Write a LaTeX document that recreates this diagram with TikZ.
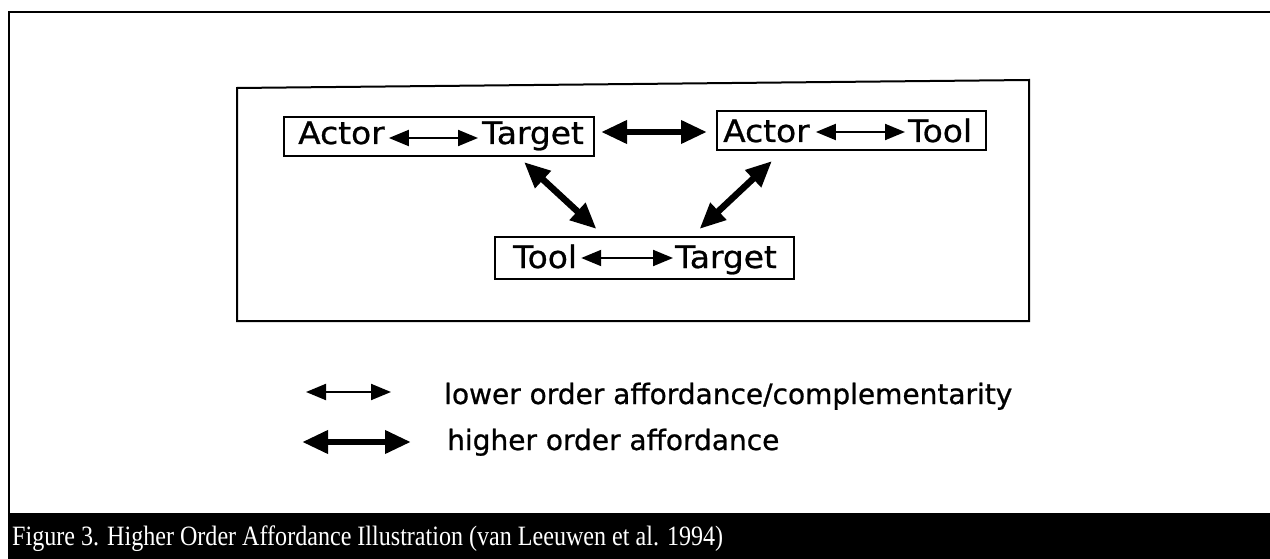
\documentclass[tikz,border=0pt]{standalone}
\usepackage{fontspec}
\setmainfont[FakeBold=0.8]{DejaVu Sans}
\newfontfamily\boxfont[FakeStretch=1.06,FakeBold=0.8]{DejaVu Sans}
\newfontfamily\capfont[FakeStretch=0.86]{Liberation Serif}
\usetikzlibrary{arrows.meta}
\begin{document}
\begin{tikzpicture}[x=1pt,y=-1pt,
  frame/.style={draw=black, line width=2pt},
  box/.style={draw=black, line width=2pt, inner sep=0pt, rectangle},
  lbl/.style={inner sep=0pt, anchor=base west, font=\boxfont\fontsize{31}{31}\selectfont},
  legtext/.style={inner sep=0pt, anchor=base west, font=\fontsize{28}{28}\selectfont},
  small/.style={line width=2pt, {Triangle[length=20pt,width=16pt]}-{Triangle[length=20pt,width=16pt]}},
  big/.style={line width=6.5pt, {Triangle[length=26pt,width=22pt]}-{Triangle[length=26pt,width=22pt]}},
]
\useasboundingbox (0,0) rectangle (1270,559);
\fill[white] (0,0) rectangle (1270,559);
% outer frame and caption bar
\draw[line width=2pt] (9,559) -- (9,12) -- (1270,12);
\fill[black] (8,513) rectangle (1270,559);
\node[anchor=base west, inner sep=0pt, text=white, font=\capfont\fontsize{28}{28}\selectfont] (cap) at (12,545) {Figure 3. Higher Order Affordance Illustration (van Leeuwen et al. 1994)};
% inner frame
\draw[frame] (237,321) -- (237,88) -- (1029,80) -- (1029,321) -- cycle;
% boxes
\node[box, minimum width=310pt, minimum height=39pt] (B1) at (439,136.5) {};
\node[box, minimum width=269pt, minimum height=39pt] (B2) at (851.5,130.5) {};
\node[box, minimum width=299pt, minimum height=42pt] (B3) at (644.5,258) {};
% texts inside boxes
\node[lbl] (A1) at (298,144) {Actor};
\node[lbl] (T1) at (482,144) {Target};
\node[lbl] (A2) at (723,142) {Actor};
\node[lbl] (L2) at (908,142) {Tool};
\node[lbl] (L3) at (513,268) {Tool};
\node[lbl] (T3) at (675,268) {Target};
% lower order arrows
\draw[small] ([shift={(4,-6)}]A1.base east) -- ([shift={(-4,-6)}]T1.base west);
\draw[small] ([shift={(6,-10)}]A2.base east) -- ([shift={(-3,-10)}]L2.base west);
\draw[small] ([shift={(4,-10)}]L3.base east) -- ([shift={(-2,-10)}]T3.base west);
% higher order arrows
\draw[big] ([shift={(6,-4.5)}]B1.east) -- ([shift={(-9,1.5)}]B2.west);
\draw[big] ([shift={(85,5)}]B1.south) -- ([shift={(-48,-7)}]B3.north);
\draw[big] ([shift={(-79.5,10)}]B2.south) -- ([shift={(55,-7)}]B3.north);
% legend
\coordinate (l1a) at (306,392);
\coordinate (l1b) at (391,392);
\coordinate (l2a) at (302,442);
\coordinate (l2b) at (411,442);
\draw[small] (l1a) -- (l1b);
\draw[big] (l2a) -- (l2b);
\node[legtext] (lt1) at (444,404) {lower order affordance/complementarity};
\node[legtext] (lt2) at (447,450) {higher order affordance};
\end{tikzpicture}
\end{document}
